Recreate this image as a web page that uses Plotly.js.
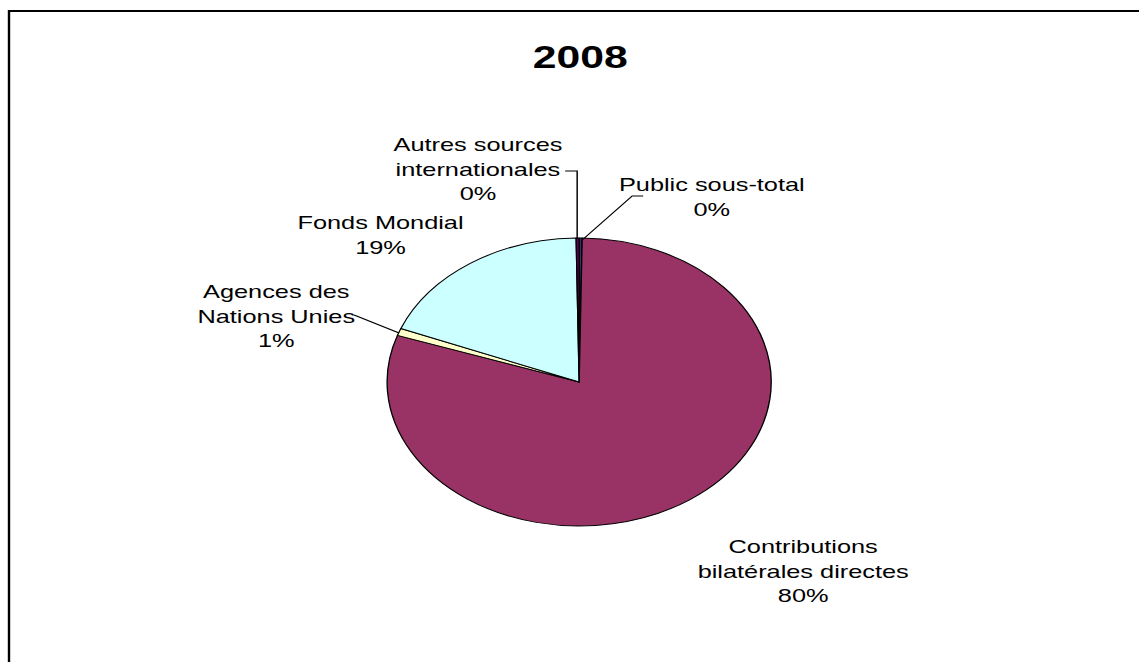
<!DOCTYPE html>
<html>
<head>
<meta charset="utf-8">
<script src="https://cdn.plot.ly/plotly-3.0.1.min.js"></script>
<style>
html,body{margin:0;padding:0;background:#fff;overflow:hidden;width:1139px;height:662px;}
#chart{width:854px;height:662px;transform:scaleX(1.33372);transform-origin:0 0;}
</style>
</head>
<body>
<div id="chart"></div>
<script>
// Data
const categories = ["Public sous-total", "Contributions bilatérales directes", "Agences des Nations Unies", "Fonds Mondial", "Autres sources internationales"];
const labelLines = [["Public sous-total"], ["Contributions", "bilatérales directes"], ["Agences des", "Nations Unies"], ["Fonds Mondial"], ["Autres sources", "internationales"]];
const values = [0.25, 80.0, 0.8, 18.7, 0.25];
const colors = ["#333366", "#993366", "#FFFFCC", "#CCFFFF", "#660066"];
const chartTitle = "2008";

// Geometry (unstretched page is 854 wide, stretched by 4/3 to 1139)
const W = 854, H = 662;
const px = x => (x * 0.75) / W;   // reference x pixel -> paper
const py = y => 1 - y / H;         // reference y pixel -> paper
const cx = 579, cy = 382, r = 144;

const total = values.reduce((a, b) => a + b, 0);
const pct = values.map(v => Math.round(v / total * 100) + "%");

// label placement (reference pixel centres)
const labelPos = [[711, 197], [803, 571], [276, 316], [381, 235], [478, 169]];

const FONT = "Liberation Sans, Arial, sans-serif";
const annotations = categories.map((c, i) => ({
  text: labelLines[i].concat([pct[i]]).join("<br>"),
  x: px(labelPos[i][0]), y: py(labelPos[i][1]),
  xref: "paper", yref: "paper", xanchor: "center", yanchor: "middle",
  align: "center", showarrow: false,
  font: {family: FONT, size: 19, color: "#000"}
}));

function pth(pts) {
  return pts.map((p, i) => (i ? "L" : "M") + px(p[0]) + "," + py(p[1])).join(" ");
}
const leader = {type: "path", xref: "paper", yref: "paper", line: {color: "#000", width: 1.1}};
const border = {type: "path", xref: "paper", yref: "paper", line: {color: "#000", width: 1.8}};
const shapes = [
  Object.assign({}, leader, {path: pth([[565, 171], [577, 171], [577, 239]])}),
  Object.assign({}, leader, {path: pth([[643, 196], [632, 196], [582, 240]])}),
  Object.assign({}, leader, {path: pth([[354, 315], [399, 333]])}),
  Object.assign({}, border, {path: pth([[9, 662], [9, 11], [1139, 11]])})
];

const trace = {
  type: "pie",
  labels: categories,
  values: values,
  sort: false,
  direction: "clockwise",
  rotation: 0,
  textinfo: "none",
  hoverinfo: "skip",
  marker: {colors: colors, line: {color: "#000", width: 1}},
  domain: {x: [px(cx - r / 0.75), px(cx + r / 0.75)], y: [py(cy + r), py(cy - r)]},
  showlegend: false
};

const layout = {
  width: W, height: H,
  margin: {l: 0, r: 0, t: 0, b: 0},
  paper_bgcolor: "#fff",
  title: {text: "<b>" + chartTitle + "</b>", x: px(580), xanchor: "center", xref: "paper",
          y: py(57), yanchor: "middle", yref: "paper",
          font: {family: FONT, size: 32, color: "#000"}},
  annotations: annotations,
  shapes: shapes,
  showlegend: false
};

Plotly.newPlot("chart", [trace], layout, {staticPlot: true, displayModeBar: false});
</script>
</body>
</html>
